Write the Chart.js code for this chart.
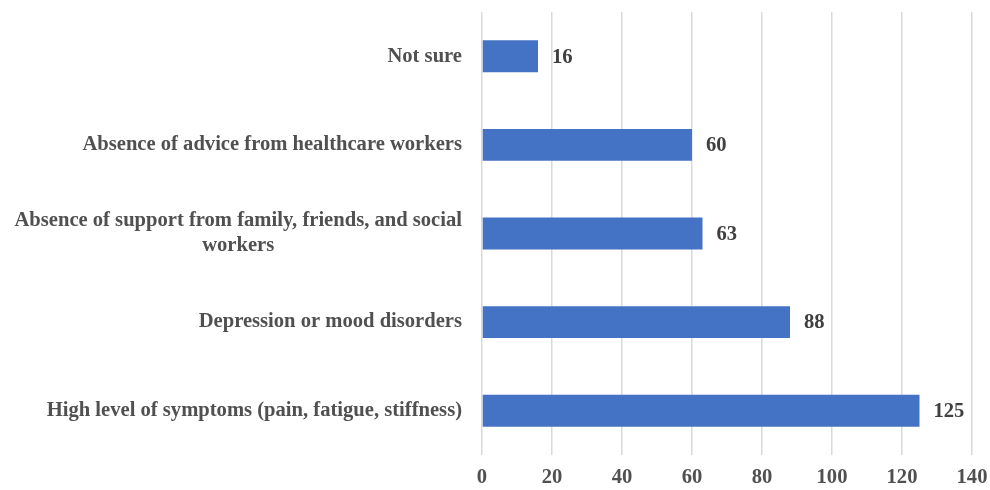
<!DOCTYPE html>
<html>
<head>
<meta charset="utf-8">
<script src="https://cdn.jsdelivr.net/npm/chart.js@4.4.0/dist/chart.umd.min.js"></script>
<style>
  html, body { margin: 0; padding: 0; background: #ffffff; }
  #wrap { width: 990px; height: 490px; position: relative; }
</style>
</head>
<body>
<div id="wrap"><canvas id="c"></canvas></div>
<script>
const categories = [
  "Not sure",
  "Absence of advice from healthcare workers",
  ["Absence of support from family, friends, and social", "workers"],
  "Depression or mood disorders",
  "High level of symptoms (pain, fatigue, stiffness)"
];
const values = [16, 60, 63, 88, 125];
const xTicks = [0, 20, 40, 60, 80, 100, 120, 140];

const FONT = "'Liberation Serif', 'Times New Roman', serif";
const FSIZE = 20.6;
const labelColor = "#505050";
const valueColor = "#404040";

const yLabelPlugin = {
  id: 'yLabels',
  afterDraw(chart) {
    const ctx = chart.ctx;
    const ys = chart.scales.y;
    ctx.save();
    ctx.font = "bold " + FSIZE + "px " + FONT;
    ctx.fillStyle = labelColor;
    ctx.textBaseline = 'middle';
    ctx.textAlign = 'center';
    const right = ys.right - 20;
    const lh = 25;
    categories.forEach((lab, i) => {
      const lines = Array.isArray(lab) ? lab : [lab];
      const maxW = Math.max(...lines.map(l => ctx.measureText(l).width));
      const cx = right - maxW / 2;
      const yc = ys.getPixelForTick(i);
      const y0 = yc - (lines.length - 1) * lh / 2;
      lines.forEach((l, k) => ctx.fillText(l, cx, y0 + k * lh));
    });
    ctx.restore();
  }
};

const valuePlugin = {
  id: 'values',
  afterDatasetsDraw(chart) {
    const ctx = chart.ctx;
    const meta = chart.getDatasetMeta(0);
    ctx.save();
    ctx.font = "bold " + FSIZE + "px " + FONT;
    ctx.fillStyle = valueColor;
    ctx.textBaseline = 'middle';
    ctx.textAlign = 'left';
    meta.data.forEach((bar, i) => {
      ctx.fillText(String(values[i]), bar.x + 14, bar.y + 1);
    });
    ctx.restore();
  }
};

new Chart(document.getElementById('c'), {
  type: 'bar',
  data: {
    labels: categories,
    datasets: [{
      data: values,
      backgroundColor: '#4472C4',
      borderWidth: 0,
      categoryPercentage: 0.72,
      barPercentage: 0.5
    }]
  },
  options: {
    indexAxis: 'y',
    responsive: true,
    maintainAspectRatio: false,
    animation: false,
    layout: { padding: { top: 12, right: 0, bottom: 0, left: 0 } },
    plugins: { legend: { display: false }, tooltip: { enabled: false } },
    scales: {
      x: {
        min: 0, max: 140,
        afterBuildTicks(scale) { scale.ticks = xTicks.map(v => ({ value: v })); },
        afterFit(scale) { scale.height = 35; scale.paddingRight = 18; },
        grid: { color: '#d9d9d9', lineWidth: 1.5, drawTicks: false },
        border: { display: false },
        ticks: {
          padding: 10,
          color: labelColor,
          font: { family: FONT, size: FSIZE, weight: 'bold' }
        }
      },
      y: {
        grid: { display: false },
        border: { display: false },
        ticks: { display: false },
        afterFit(scale) { scale.width = 482; }
      }
    }
  },
  plugins: [yLabelPlugin, valuePlugin]
});
</script>
</body>
</html>
